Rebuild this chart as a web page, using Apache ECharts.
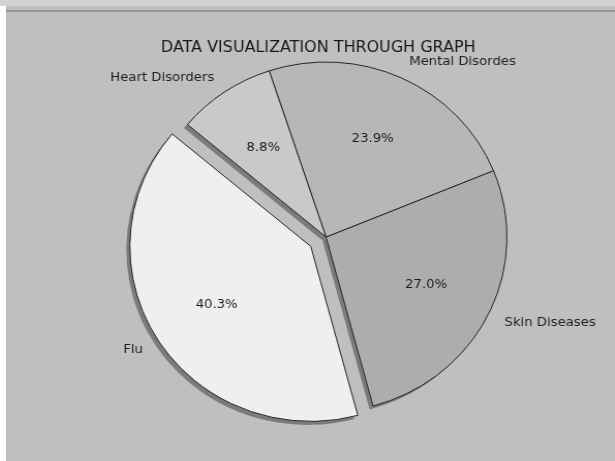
<!DOCTYPE html>
<html>
<head>
<meta charset="utf-8">
<script src="https://cdn.jsdelivr.net/npm/echarts@6/dist/echarts.min.js"></script>
<style>
  html, body { margin: 0; padding: 0; background: #ffffff; width: 615px; height: 461px; overflow: hidden; }
  #topstrip { position: absolute; left: 0; top: 0; width: 615px; height: 6px; background: #d2d2d2; }
  #chart { position: absolute; left: 6px; top: 6px; width: 589px; height: 455px; transform: scaleX(1.034); transform-origin: 0 0; }
  #rule { position: absolute; left: 6px; top: 10px; width: 609px; height: 2px; background: #979797; z-index: 5; }
</style>
</head>
<body>
<div id="topstrip"></div>
<div id="chart"></div>
<div id="rule"></div>
<script>
const titleText = 'DATA VISUALIZATION THROUGH GRAPH';
const categories = ['Flu', 'Skin Diseases', 'Mental Disordes', 'Heart Disorders'];
const shares = [40.3, 27.0, 23.9, 8.8];
const exploded = [true, false, false, false];
const sliceColors = ['#efefef', '#adadad', '#b7b7b7', '#c9c9c9'];

const R = 175;
const cx = 309.5, cy = 231;
const explodeOffset = 0.1 * R;

function makeData(colorFn) {
  return categories.map((name, i) => ({
    name: name,
    value: shares[i],
    selected: exploded[i],
    itemStyle: { color: colorFn(i) }
  }));
}

const common = {
  type: 'pie',
  clockwise: false,
  startAngle: 140,
  selectedMode: 'multiple',
  selectedOffset: explodeOffset,
  avoidLabelOverlap: false,
  animation: false,
  silent: true,
  emphasis: { disabled: true },
  select: { disabled: false }
};

const chart = echarts.init(document.getElementById('chart'), null, { renderer: 'canvas' });
chart.setOption({
  backgroundColor: '#bfbfbf',
  animation: false,
  title: {
    text: titleText,
    left: 297,
    top: 29,
    textAlign: 'center',
    textStyle: { fontFamily: 'DejaVu Sans', fontSize: 15.45, fontWeight: 'normal', color: '#181818' }
  },
  series: [
    Object.assign({}, common, {
      name: 'shadow',
      z: 1,
      center: [cx - 3.4, cy + 3.5],
      radius: R,
      label: { show: false },
      labelLine: { show: false },
      itemStyle: { borderWidth: 0 },
      select: { itemStyle: { color: '#7b7b7b' } },
      data: makeData(() => '#7b7b7b')
    }),
    Object.assign({}, common, {
      name: 'slices',
      z: 2,
      center: [cx, cy],
      radius: R,
      itemStyle: { borderColor: '#262626', borderWidth: 1 },
      select: { itemStyle: { borderColor: '#262626', borderWidth: 1 } },
      label: {
        show: true,
        position: 'outside',
        formatter: '{b}',
        fontFamily: 'DejaVu Sans',
        fontSize: 12.8,
        color: '#1e1e1e',
        distanceToLabelLine: 0
      },
      labelLine: { show: false, length: 0.1 * R, length2: 0 },
      data: makeData(i => sliceColors[i])
    }),
    Object.assign({}, common, {
      name: 'pct',
      z: 3,
      center: [cx, cy],
      radius: [0.2 * R, R],
      itemStyle: { color: 'rgba(0,0,0,0)', borderWidth: 0 },
      select: { itemStyle: { color: 'rgba(0,0,0,0)', borderWidth: 0 } },
      label: {
        show: true,
        position: 'inside',
        formatter: p => p.value.toFixed(1) + '%',
        fontFamily: 'DejaVu Sans',
        fontSize: 12.8,
        color: '#1e1e1e'
      },
      labelLine: { show: false },
      data: makeData(() => 'rgba(0,0,0,0)')
    })
  ]
});
</script>
</body>
</html>
